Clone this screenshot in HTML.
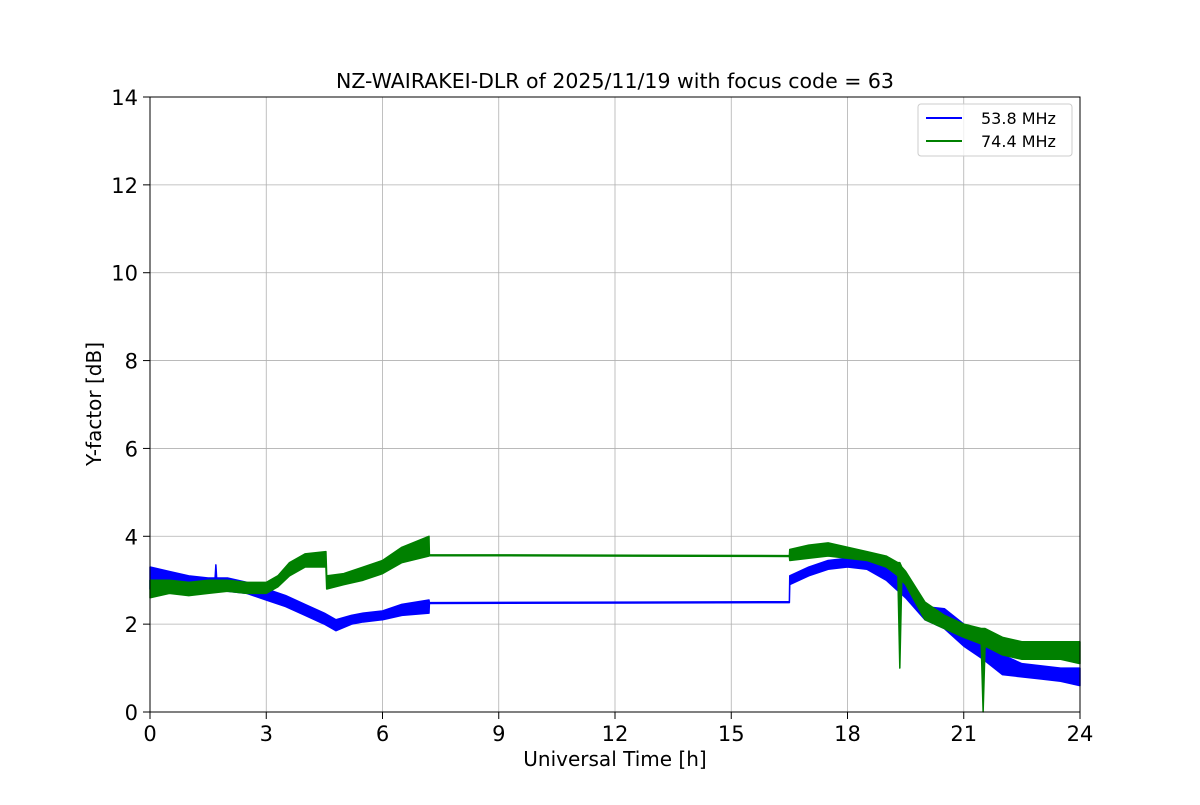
<!DOCTYPE html>
<html><head><meta charset="utf-8">
<style>
body{margin:0;background:#fff;}
svg text{font-family:"DejaVu Sans","Liberation Sans",sans-serif;fill:#000;}
</style></head>
<body>
<svg id="chart" width="1200" height="800" xmlns="http://www.w3.org/2000/svg">
<rect width="1200" height="800" fill="#fff"/>
<g id="grid"></g>
<g id="series"></g>
<rect x="150" y="97" width="930" height="615" fill="none" stroke="#000" stroke-width="1"/>
<g id="ticks"></g>
<text x="615" y="88" font-size="20.5" text-anchor="middle">NZ-WAIRAKEI-DLR of 2025/11/19 with focus code = 63</text>
<text x="615" y="766" font-size="20" text-anchor="middle">Universal Time [h]</text>
<text x="101" y="404" font-size="20" text-anchor="middle" transform="rotate(-90 101 404)">Y-factor [dB]</text>
<g>
<rect x="918" y="104" width="154" height="52" rx="3" fill="#fff" fill-opacity="0.8" stroke="#ccc"/>
<g><line x1="926" y1="118" x2="962" y2="118" stroke="#0000ff" stroke-width="2"/><text x="981" y="124" font-size="16">53.8 MHz</text></g>
<g><line x1="926" y1="141" x2="962" y2="141" stroke="#008000" stroke-width="2"/><text x="981" y="147" font-size="16">74.4 MHz</text></g>
</g>
</svg>
<script>
const xTicks=[0,3,6,9,12,15,18,21,24];
const yTicks=[0,2,4,6,8,10,12,14];
const blueT=[0,0.5,1,1.5,1.68,1.7,1.72,2,2.5,3,3.5,4,4.5,4.8,5.2,5.5,6,6.5,7.2,7.21,16.5,16.51,17,17.5,18,18.5,19,19.5,20,20.5,21,21.5,22,22.5,23,23.5,24];
const blueLo=[2.8,2.85,2.8,2.8,2.8,2.9,2.8,2.75,2.7,2.55,2.4,2.2,2.0,1.85,2.0,2.05,2.1,2.2,2.25,2.47,2.49,2.9,3.1,3.25,3.3,3.25,3.0,2.6,2.1,1.9,1.5,1.2,0.85,0.8,0.75,0.7,0.6];
const blueHi=[3.3,3.2,3.1,3.05,3.05,3.35,3.05,3.05,2.95,2.8,2.65,2.45,2.25,2.1,2.2,2.25,2.3,2.45,2.55,2.49,2.51,3.1,3.3,3.45,3.5,3.45,3.3,2.9,2.4,2.35,2.0,1.7,1.3,1.1,1.05,1.0,1.0];
const greenT=[0,0.5,1,1.5,2,2.5,3,3.3,3.6,4,4.54,4.56,5,5.5,6,6.5,7.2,7.21,16.5,16.51,17,17.5,18,18.5,19,19.3,19.35,19.4,19.5,20,20.5,21,21.45,21.5,21.55,22,22.5,23,23.5,24];
const greenLo=[2.6,2.7,2.65,2.7,2.75,2.7,2.7,2.85,3.1,3.3,3.3,2.8,2.9,3.0,3.15,3.4,3.55,3.56,3.54,3.45,3.5,3.55,3.5,3.45,3.3,3.1,1.0,3.0,2.9,2.1,1.9,1.7,1.55,0,1.5,1.3,1.2,1.2,1.2,1.1];
const greenHi=[3.0,3.0,2.95,3.0,3.0,2.95,2.95,3.1,3.4,3.6,3.65,3.1,3.15,3.3,3.45,3.75,4.0,3.58,3.56,3.7,3.8,3.85,3.75,3.65,3.55,3.4,3.4,3.3,3.2,2.5,2.2,2.0,1.9,1.9,1.9,1.7,1.6,1.6,1.6,1.6];
const X=t=>150+t*930/24, Y=v=>712-v*615/14;
const NS='http://www.w3.org/2000/svg';
const grid=document.getElementById('grid'),ticks=document.getElementById('ticks'),ser=document.getElementById('series');
function mk(tag,at,parent){const e=document.createElementNS(NS,tag);for(const k in at)e.setAttribute(k,at[k]);parent.appendChild(e);return e;}
xTicks.forEach(t=>{
 const g=mk('line',{x1:X(t),x2:X(t),y1:97,y2:712,stroke:'#b0b0b0','stroke-width':0.8},grid);
 
 
 mk('line',{x1:X(t),x2:X(t),y1:712,y2:719,stroke:'#000'},ticks);
 const l=mk('text',{x:X(t),y:741,'font-size':21,'text-anchor':'middle'},ticks);l.textContent=t;
 
 
});
yTicks.forEach(v=>{
 const g=mk('line',{x1:150,x2:1080,y1:Y(v),y2:Y(v),stroke:'#b0b0b0','stroke-width':0.8},grid);
 
 
 mk('line',{x1:143,x2:150,y1:Y(v),y2:Y(v),stroke:'#000'},ticks);
 const l=mk('text',{x:138,y:Y(v)+8,'font-size':21,'text-anchor':'end'},ticks);l.textContent=v;
 
 
});
function band(T,lo,hi,col,name){
 let d='M'+T.map((t,i)=>X(t)+','+Y(hi[i])).join('L');
 for(let i=T.length-1;i>=0;i--)d+='L'+X(T[i])+','+Y(lo[i]);
 const p=mk('path',{d:d+'Z',fill:col,stroke:col,'stroke-width':1.5,'stroke-linejoin':'round'},ser);
 
 
}
band(blueT,blueLo,blueHi,'#0000ff','series-53-8-mhz');
band(greenT,greenLo,greenHi,'#008000','series-74-4-mhz');
</script>
</body></html>
